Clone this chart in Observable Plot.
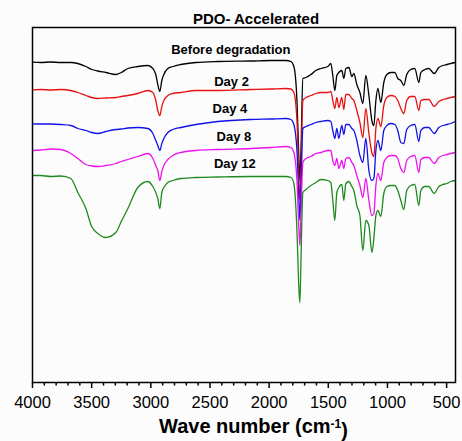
<!DOCTYPE html>
<html>
<head>
<meta charset="utf-8">
<script src="https://cdn.jsdelivr.net/npm/d3@7"></script>
<script src="https://cdn.jsdelivr.net/npm/@observablehq/plot@0.6"></script>
<style>
  html, body { margin: 0; padding: 0; background: #fcfcfc; }
</style>
</head>
<body>
<div id="chart"></div>
<script>
// Wave numbers (cm-1) sampled along the spectra
const wavenumber = [4000,3930,3845,3761,3676,3617,3549,3500,3448,3380,3296,3250,
  3194,3110,3025,2983,2958,2941,2924,2907,2890,2856,
  2814,2746,2619,2433,2154,1985,1859,1816,1791,1765,
  1748,1740,1731,1715,1689,1647,1605,1563,1504,1479,
  1462,1445,1428,1411,1386,1369,1352,1326,1301,1284,
  1259,1233,1208,1183,1157,1132,1115,1098,1081,1056,
  1031,1005,971,937,913,887,862,837,803,769,
  735,718,684,651,605,566,532,498,464,430];

// Offset transmittance (arbitrary units)
const beforeDegradation = [320.3,320,320.5,320,320,319,316,313,311.5,310,308,310,
  314,316,317,314,308,298,291,302,308,314,
  316,318,320,321,321.5,322,322,321,316,282,
  222,202,232,304,305,308,312,314,316,319,
  307,292,307,310,312,304,314,315,306,309,
  298,290,279,307,287,262,257,282,294,280,
  300,308,310,310,304,302,297,308,313,314,
  300,310,313,314,309,315,317,318,319,320];
const day2 = [292.7,293,292.5,293,292,290,287,285,284,284.5,285,286,
  287,289,292,290,282,272,267,276,282,287,
  289,290,292,292,293,293.5,294,293.5,290,262,
  202,182,212,282,285,287,289,290,290,291,
  282,274,285,275,285,273,288,288,284,282,
  272,260,245,274,249,230,226,254,264,256,
  277,285,287,286,282,274,269,282,286,286,
  272,282,283,283,276,281,283,284,285,286];
const day4 = [258.7,258.5,258.5,258,257,254,252,250,249,251,253,253.5,
  254.5,255,254,249,242,237,232,239,244,250,
  253,255,258,261,263,263.5,264,263,258,232,
  182,162,192,254,256,258,260,261,262,261,
  252,244,254,244,257,248,258,258,254,252,
  242,227,220,244,212,202,204,232,242,232,
  252,257,259,258,252,240,239,253,257,258,
  241,252,255,255,249,255,257,258,259,261];
const day8 = [232,232.5,233.5,233,229,224,218,216.5,216,217,219,221,
  223,226,229,224,217,212,202,211,217,223,
  227,230,232,233,234,235,236,235,230,202,
  152,137,167,220,224,226,229,230,232,232,
  222,217,224,214,222,214,224,225,220,217,
  207,197,185,204,182,167,169,197,209,202,
  220,225,227,227,224,214,210,222,226,227,
  210,223,225,225,219,225,227,228,229,230];
const day12 = [207,207,206,206.5,204,190,174,156,149,145,150,161,
  174,195,201,196,190,184,174,190,195,200,
  202,204,205,205.5,206,206,206,205,199,152,
  92,80,122,190,193,197,200,203,202,200,
  182,162,190,195,198,182,199,201,196,192,
  177,167,132,162,157,130,144,167,172,166,
  189,196,197,197,192,182,173,192,197,198,
  177,192,196,196,189,196,198,199,201,202];

const seriesNames = ["Before degradation", "Day 2", "Day 4", "Day 8", "Day 12"];
const seriesColors = ["#000000", "#e81010", "#1010e8", "#ee10ee", "#1e8a1e"];
const seriesValues = [beforeDegradation, day2, day4, day8, day12];

// Label anchors (wave number, transmittance a.u.)
const labelWn = [2324, 2318, 2332, 2298, 2290];
const labelT = [332.7, 301, 273.7, 245.3, 218.7];

const majorTicks = [4000, 3500, 3000, 2500, 2000, 1500, 1000, 500];
const minorTicks = d3.range(500, 4001, 100).filter(d => d % 500 !== 0);

const title = "PDO- Accelerated";
const xLabel = "Wave number (cm-1)";

const rows = seriesNames.flatMap((name, k) =>
  wavenumber.map((w, i) => ({wn: w, t: seriesValues[k][i], series: name})));

const labels = seriesNames.map((name, k) => ({name, wn: labelWn[k], t: labelT[k]}));

const lineMarks = seriesNames.map((name, k) =>
  Plot.line(rows.filter(r => r.series === name), {
    x: "wn", y: "t", stroke: seriesColors[k], strokeWidth: 1.3, curve: "monotone-x"
  }));

const chart = Plot.plot({
  width: 462,
  height: 441,
  marginLeft: 32,
  marginRight: 7,
  marginTop: 27,
  marginBottom: 59,
  style: {
    background: "#fcfcfc",
    fontFamily: "'Liberation Sans', Arial, sans-serif",
    fontSize: "16.5px",
    color: "black",
    overflow: "visible"
  },
  x: {domain: [4000, 425]},
  y: {domain: [0, 355], axis: null},
  marks: [
    ...lineMarks,
    Plot.axisX({ticks: minorTicks, tickSize: 3.5, text: null, strokeWidth: 1.5, label: null}),
    Plot.axisX({ticks: majorTicks, tickSize: 6, tickPadding: 8, strokeWidth: 1.5,
      tickFormat: d => String(d), label: null}),
    Plot.frame({stroke: "black", strokeWidth: 1.5}),
    Plot.text(labels, {x: "wn", y: "t", text: "name", fontSize: 13, fontWeight: "bold",
      fill: "black", textAnchor: "middle", lineAnchor: "middle"}),
    Plot.text([title], {frameAnchor: "top", lineAnchor: "middle", dy: -8.3, dx: 12,
      fontSize: 15, fontWeight: "bold", fill: "black"}),
    Plot.text([xLabel], {frameAnchor: "bottom", lineAnchor: "middle", dy: 44, dx: 9.5,
      fontSize: 20, fontWeight: "bold", fill: "black"})
  ]
});

document.getElementById("chart").appendChild(chart);

// Render the superscript in the x-axis label
d3.select(chart).selectAll("text").each(function() {
  if (this.textContent === xLabel) {
    const el = d3.select(this);
    el.text(null);
    el.append("tspan").text("Wave number (cm");
    el.append("tspan").attr("dy", "-0.45em").attr("font-size", "12px").text("-1");
    el.append("tspan").attr("dy", "0.45em").text(")");
  }
});
</script>
</body>
</html>
